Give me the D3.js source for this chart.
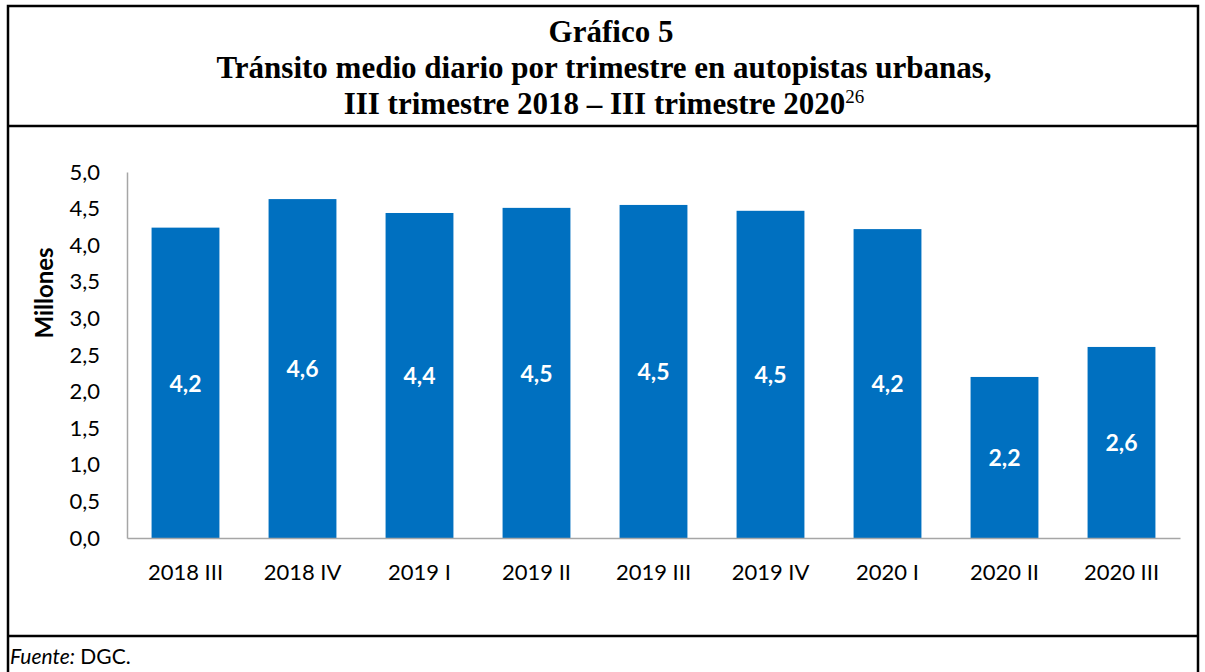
<!DOCTYPE html>
<html>
<head>
<meta charset="utf-8">
<script src="https://cdn.jsdelivr.net/npm/d3@7"></script>
<style>
	body { margin: 0; background: #fff; }
	svg { display: block; }
	.tick text { font-family: Lato, "Liberation Sans", sans-serif; font-size: 22px; fill: #000; }
	.title { font-family: "Liberation Serif", "Times New Roman", serif; font-weight: bold; font-size: 31px; fill: #000; }
</style>
</head>
<body>
<script>
	'use strict';

	// data
	var quarters = ["2018 III", "2018 IV", "2019 I", "2019 II", "2019 III", "2019 IV", "2020 I", "2020 II", "2020 III"];
	var traffic  = [4.24, 4.63, 4.44, 4.51, 4.55, 4.47, 4.22, 2.20, 2.61];
	var yTicks   = [0, 0.5, 1, 1.5, 2, 2.5, 3, 3.5, 4, 4.5, 5];

	var fmt = function(v) { return d3.format(".1f")(v).replace(".", ","); };

	var W = 1205, H = 672;
	var margin = { top: 172, left: 127 };

	var svg = d3.select("body").append("svg")
		.attr("width", W)
		.attr("height", H);

	// frame lines
	var frame = svg.append("g").attr("stroke", "#000").attr("stroke-width", 2.5).attr("fill", "none");
	frame.append("path").attr("d", "M8,672V6H1198V672");
	frame.append("line").attr("x1", 8).attr("x2", 1198).attr("y1", 126).attr("y2", 126);
	frame.append("line").attr("x1", 8).attr("x2", 1198).attr("y1", 636).attr("y2", 636);

	// title
	svg.append("text").attr("class", "title").attr("x", 611).attr("y", 42).attr("text-anchor", "middle").text("Gráfico 5");
	svg.append("text").attr("class", "title").attr("x", 604).attr("y", 78).attr("text-anchor", "middle").text("Tránsito medio diario por trimestre en autopistas urbanas,");
	var t3 = svg.append("text").attr("class", "title").attr("x", 604).attr("y", 114).attr("text-anchor", "middle");
	t3.append("tspan").text("III trimestre 2018 – III trimestre 2020");
	t3.append("tspan").attr("font-weight", "normal").attr("font-size", "19px").attr("dy", -11).text("26");

	var height = 538 - margin.top;

	var g = svg.append("g").attr("transform", "translate(" + margin.left + "," + margin.top + ")");

	var x = d3.scaleBand().domain(quarters).range([0, 1053]).paddingInner(0.42).paddingOuter(0.21);
	var y = d3.scaleLinear().domain([0, 5]).range([height, 0]);

	// y axis
	var yAxis = g.append("g")
		.call(d3.axisLeft(y).tickValues(yTicks).tickFormat(fmt).tickSize(0).tickPadding(27));
	yAxis.select(".domain").attr("stroke", "#a6a6a6").attr("stroke-width", 1.5);

	// bars
	g.selectAll(".bar")
		.data(traffic)
		.enter().append("rect")
		.attr("class", "bar")
		.attr("x", function(d, i) { return x(quarters[i]); })
		.attr("y", function(d) { return y(d); })
		.attr("width", x.bandwidth())
		.attr("height", function(d) { return y(0) - y(d); })
		.attr("fill", "#0070c0");

	// value labels
	g.selectAll(".lbl")
		.data(traffic)
		.enter().append("text")
		.attr("class", "lbl")
		.attr("x", function(d, i) { return x(quarters[i]) + x.bandwidth() / 2; })
		.attr("y", function(d) { return (y(d) + y(0)) / 2; })
		.attr("dy", "0.38em")
		.attr("text-anchor", "middle")
		.attr("font-family", "Lato, 'Liberation Sans', sans-serif")
		.attr("font-weight", "bold")
		.attr("font-size", "23px")
		.attr("fill", "#fff")
		.text(function(d) { return fmt(d); });

	// x axis
	var xAxis = g.append("g")
		.attr("transform", "translate(0," + height + ")")
		.call(d3.axisBottom(x).tickSize(0).tickSizeOuter(0).tickPadding(26));
	xAxis.select(".domain").attr("stroke", "#a6a6a6").attr("stroke-width", 1.5);

	// y axis label
	svg.append("text")
		.attr("transform", "translate(53,293)rotate(-90)")
		.attr("text-anchor", "middle")
		.attr("font-family", "Lato, 'Liberation Sans', sans-serif")
		.attr("font-weight", "bold")
		.attr("font-size", "24px")
		.text("Millones");

	// source
	var src = svg.append("text")
		.attr("x", 10).attr("y", 664)
		.attr("font-family", "Lato, 'Liberation Sans', sans-serif")
		.attr("font-size", "21px");
	src.append("tspan").attr("font-style", "italic").text("Fuente:");
	src.append("tspan").text(" DGC.");
</script>
</body>
</html>
